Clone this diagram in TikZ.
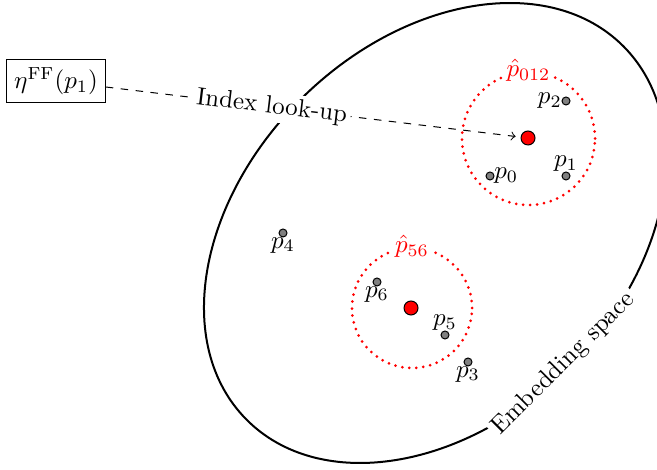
\documentclass[tikz,border=0pt]{standalone}
\usepackage{amsmath}
\usepackage{tikz}

\begin{document}
\begin{tikzpicture}[x=0.4pt, y=-0.4pt, >=to,
    sample/.style={circle, draw, fill=gray, inner sep=0pt, minimum size=3.2pt},
    mean/.style={circle, draw, fill=red, inner sep=0pt, minimum size=5.6pt},
    region/.style={circle, draw=red, line width=1.2pt, dash pattern=on 0pt off 2.8pt, line cap=round, inner sep=0pt}]
    \useasboundingbox (0,0) rectangle (657,470);
    % embedding space
    \draw[thick, shift={(435,233)}, rotate=44.6] (0,0) ellipse [x radius=106.1pt, y radius=75.8pt];
    \path[shift={(435,233)}, rotate=44.6] (-90:106.1pt and 75.8pt) node[rotate=45, anchor=base, fill=white, inner sep=1.5pt] (space) {Embedding space};
    % sample points
    \foreach \n/\x/\y/\side in {0/490/176/right, 1/566/176/above, 2/566/101/left, 3/468/362/below, 4/283/233/below, 5/445/335/above, 6/377/282/below} {
        \node[sample] (p\n) at (\x,\y) {};
        \node[\side=0.5pt, inner sep=1pt] (l\n) at (p\n) {$p_{\n}$};
    }
    % cluster centres
    \node[mean] (m012) at (528,138) {};
    \node[mean] (m56) at (411,308) {};
    \node[region, minimum size=53.2pt] (c012) at (528.5,138.5) {};
    \node[region, minimum size=48pt] (c56) at (412,308) {};
    \node[red, fill=white, inner sep=1pt] at (c012.north) {$\hat{p}_{012}$};
    \node[red, fill=white, inner sep=1pt] at (c56.north) {$\hat{p}_{56}$};
    % look-up
    \node[draw, inner sep=3pt] (ff) at (56,81) {$\eta^{\mathrm{FF}}(p_1)$};
    \draw[->, dashed, shorten >=2pt] (ff) -- (m012) node[pos=0.4, sloped, fill=white, inner sep=1.5pt] {Index look-up};
\end{tikzpicture}
\end{document}
